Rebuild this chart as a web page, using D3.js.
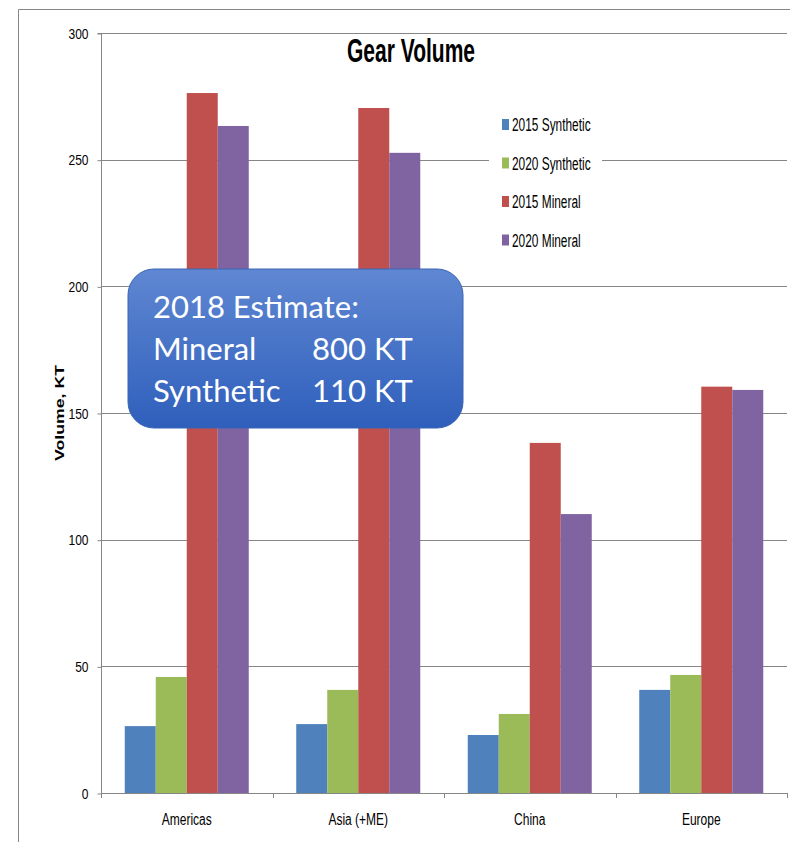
<!DOCTYPE html>
<html>
<head>
<meta charset="utf-8">
<script src="https://cdn.jsdelivr.net/npm/d3@7"></script>
<style>
  html, body { margin: 0; padding: 0; background: #fff; }
  svg { display: block; }
</style>
</head>
<body>
<svg id="chart" width="790" height="842"></svg>
<script>
// Gear volume by region, KT
const categories = ["Americas", "Asia (+ME)", "China", "Europe"];
const seriesNames = ["2015 Synthetic", "2020 Synthetic", "2015 Mineral", "2020 Mineral"];
const synthetic2015 = [26.4, 27.2, 22.9, 40.7];
const synthetic2020 = [45.8, 40.7, 31.2, 46.6];
const mineral2015 = [276.3, 270.4, 138.2, 160.4];
const mineral2020 = [263.3, 252.7, 110.1, 159.1];
const yTicks = [0, 50, 100, 150, 200, 250, 300];
const seriesColors = ["#4f81bd", "#9bbb59", "#c0504d", "#8064a2"];
const estimateLines = [["2018 Estimate:", ""], ["Mineral", "800 KT"], ["Synthetic", "110 KT"]];

const seriesValues = [synthetic2015, synthetic2020, mineral2015, mineral2020];
const rows = categories.map((c, i) => ({
  category: c,
  values: seriesNames.map((s, j) => ({ series: s, value: seriesValues[j][i], color: seriesColors[j] }))
}));

const svg = d3.select("#chart");
const axisColor = "#868686";
const labelFont = "'Liberation Sans', Arial, sans-serif";

// Horizontally condense text to mimic a narrow face
function squeeze(sel, factor) {
  sel.each(function () {
    const w = this.getComputedTextLength();
    d3.select(this).attr("textLength", w * factor).attr("lengthAdjust", "spacingAndGlyphs");
  });
}

// Outer chart frame
svg.append("path")
  .attr("d", "M18.5,842 V9.5 H790")
  .attr("fill", "none").attr("stroke", axisColor).attr("stroke-width", 1);

const plot = { left: 101, right: 787, top: 33, bottom: 793 };

const x0 = d3.scaleBand().domain(categories).range([plot.left, plot.right]).padding(0);
const x1 = d3.scaleBand().domain(seriesNames).range([0, x0.bandwidth()])
  .paddingInner(0).paddingOuter(0.766);
const y = d3.scaleLinear().domain([0, 300]).range([plot.bottom, plot.top]);

// Gridlines
svg.append("g").selectAll("line")
  .data(yTicks.filter(t => t > 0))
  .join("line")
  .attr("x1", plot.left).attr("x2", plot.right)
  .attr("y1", d => Math.round(y(d)) + 0.5).attr("y2", d => Math.round(y(d)) + 0.5)
  .attr("stroke", axisColor).attr("stroke-width", 1);

// Bars
const groups = svg.append("g").selectAll("g")
  .data(rows)
  .join("g")
  .attr("transform", d => `translate(${x0(d.category)},0)`);

groups.selectAll("rect")
  .data(d => d.values)
  .join("rect")
  .attr("x", d => x1(d.series))
  .attr("width", x1.bandwidth())
  .attr("y", d => y(d.value))
  .attr("height", d => y(0) - y(d.value))
  .attr("fill", d => d.color);

// Y axis
const yAxis = svg.append("g")
  .attr("transform", `translate(${plot.left + 0.5},0.5)`)
  .call(d3.axisLeft(y).tickValues(yTicks).tickSize(4).tickPadding(9).tickFormat(d3.format("d")));
yAxis.select(".domain").attr("stroke", axisColor).attr("d", `M-4,${plot.top}H0V${plot.bottom}`);
yAxis.selectAll(".tick line").attr("stroke", axisColor);
yAxis.selectAll(".tick text")
  .attr("fill", "#000").attr("font-size", 15).attr("font-family", labelFont)
  .call(squeeze, 0.8);

// X axis
const xAxis = svg.append("g")
  .attr("transform", `translate(0,${plot.bottom + 0.5})`)
  .call(d3.axisBottom(x0).tickSize(0).tickPadding(20));
xAxis.select(".domain").attr("stroke", axisColor).attr("d", `M${plot.left},0H${plot.right}`);
xAxis.selectAll(".tick text")
  .attr("fill", "#000").attr("font-size", 16).attr("font-family", labelFont)
  .call(squeeze, 0.75);
// Category separators
svg.append("g").selectAll("line")
  .data(d3.range(categories.length + 1))
  .join("line")
  .attr("x1", i => Math.round(plot.left + i * x0.step()) + 0.5)
  .attr("x2", i => Math.round(plot.left + i * x0.step()) + 0.5)
  .attr("y1", plot.bottom).attr("y2", plot.bottom + 5)
  .attr("stroke", axisColor);

// Y axis title
svg.append("text")
  .attr("transform", "translate(64,413) rotate(-90)")
  .attr("text-anchor", "middle")
  .attr("font-family", labelFont).attr("font-weight", "bold").attr("font-size", 13)
  .attr("textLength", 96).attr("lengthAdjust", "spacingAndGlyphs")
  .text("Volume, KT");

// Title
svg.append("text")
  .attr("x", 411).attr("y", 62)
  .attr("text-anchor", "middle")
  .attr("font-family", labelFont).attr("font-weight", "bold").attr("font-size", 33)
  .attr("textLength", 128).attr("lengthAdjust", "spacingAndGlyphs")
  .text("Gear Volume");

// Legend
const legend = svg.append("g").attr("transform", "translate(489,105)");
legend.append("rect").attr("width", 113).attr("height", 155).attr("fill", "#fff");
const li = legend.selectAll("g")
  .data(seriesNames)
  .join("g")
  .attr("transform", (d, i) => `translate(13,${20 + i * 38.5})`);
li.append("rect").attr("y", -6).attr("width", 7).attr("height", 11)
  .attr("fill", (d, i) => seriesColors[i]);
li.append("text")
  .attr("x", 10).attr("y", 6)
  .attr("font-family", labelFont).attr("font-size", 18)
  .text(d => d)
  .call(squeeze, 0.66);

// Estimate callout
const defs = svg.append("defs");
const grad = defs.append("linearGradient").attr("id", "calloutFill")
  .attr("x1", 0).attr("y1", 0).attr("x2", 0).attr("y2", 1);
grad.append("stop").attr("offset", "0%").attr("stop-color", "#5f87d2");
grad.append("stop").attr("offset", "100%").attr("stop-color", "#2f5fbc");

const callout = svg.append("g").attr("transform", "translate(128,269)");
callout.append("rect")
  .attr("width", 335).attr("height", 159).attr("rx", 26).attr("ry", 26)
  .attr("fill", "url(#calloutFill)")
  .attr("stroke", "#3a64b4").attr("stroke-width", 1);
const lineY = [49, 91, 133];
estimateLines.forEach((ln, i) => {
  callout.append("text")
    .attr("x", 25).attr("y", lineY[i])
    .attr("fill", "#fff").attr("font-family", "Lato, 'Open Sans', sans-serif").attr("font-size", 31)
    .text(ln[0]);
  if (ln[1]) {
    callout.append("text")
      .attr("x", 184).attr("y", lineY[i])
      .attr("fill", "#fff").attr("font-family", "Lato, 'Open Sans', sans-serif").attr("font-size", 31)
      .text(ln[1]);
  }
});
</script>
</body>
</html>
